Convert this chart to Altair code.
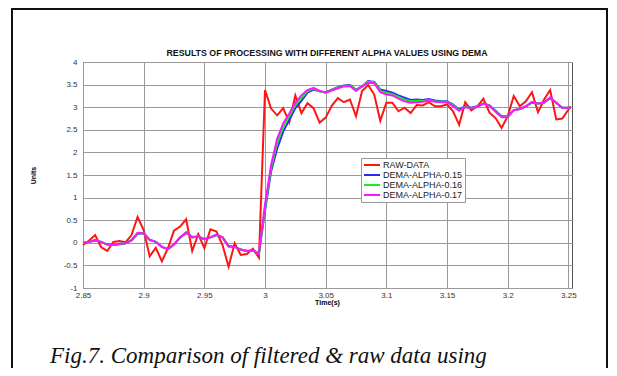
import altair as alt
import pandas as pd

# ---- data ----
time_s = [2.850, 2.855, 2.860, 2.865, 2.870, 2.875, 2.880, 2.885, 2.890, 2.895,
          2.900, 2.905, 2.910, 2.915, 2.920, 2.925, 2.930, 2.935, 2.940, 2.945,
          2.950, 2.955, 2.960, 2.965, 2.970, 2.975, 2.980, 2.985, 2.990, 2.995,
          3.000, 3.005, 3.010, 3.015, 3.020, 3.025, 3.030, 3.035, 3.040, 3.045,
          3.050, 3.055, 3.060, 3.065, 3.070, 3.075, 3.080, 3.085, 3.090, 3.095,
          3.100, 3.105, 3.110, 3.115, 3.120, 3.125, 3.130, 3.135, 3.140, 3.145,
          3.150, 3.155, 3.160, 3.165, 3.170, 3.175, 3.180, 3.185, 3.190, 3.195,
          3.200, 3.205, 3.210, 3.215, 3.220, 3.225, 3.230, 3.235, 3.240, 3.245,
          3.252]

raw_data = [-0.05, 0.05, 0.17, -0.10, -0.18, 0.02, 0.04, 0.01, 0.17, 0.57,
            0.28, -0.30, -0.11, -0.41, -0.12, 0.27, 0.36, 0.52, -0.18, 0.19,
            -0.12, 0.30, 0.25, -0.05, -0.53, -0.01, -0.27, -0.25, -0.13, -0.33,
            3.38, 2.97, 2.82, 2.98, 2.66, 3.26, 2.87, 3.09, 2.98, 2.66,
            2.77, 3.03, 3.20, 3.11, 3.17, 2.80, 3.36, 3.49, 3.28, 2.70,
            3.10, 3.10, 2.91, 2.99, 2.87, 3.05, 3.04, 3.11, 3.02, 3.02,
            3.06, 2.91, 2.61, 3.11, 2.93, 3.02, 3.19, 2.88, 2.76, 2.54,
            2.80, 3.25, 3.02, 3.13, 3.33, 2.89, 3.17, 3.38, 2.73, 2.75,
            3.02]

dema_015 = [0.00, 0.02, 0.05, 0.02, -0.04, -0.05, -0.03, -0.01, 0.05, 0.20,
            0.21, 0.07, 0.02, -0.09, -0.14, -0.04, 0.11, 0.22, 0.13, 0.14,
            0.08, 0.12, 0.17, 0.12, -0.07, -0.09, -0.15, -0.18, -0.17, -0.23,
            0.70, 1.58, 2.08, 2.46, 2.72, 2.98, 3.14, 3.32, 3.39, 3.35,
            3.33, 3.39, 3.44, 3.48, 3.49, 3.39, 3.46, 3.58, 3.56, 3.39,
            3.36, 3.32, 3.26, 3.21, 3.16, 3.17, 3.16, 3.18, 3.15, 3.13,
            3.13, 3.06, 2.95, 3.02, 2.99, 3.02, 3.08, 3.04, 2.92, 2.80,
            2.80, 2.93, 2.96, 3.02, 3.10, 3.08, 3.10, 3.20, 3.10, 2.99,
            2.99]

dema_016 = [0.00, 0.02, 0.06, 0.02, -0.04, -0.05, -0.02, -0.01, 0.06, 0.21,
            0.21, 0.06, 0.02, -0.09, -0.14, -0.03, 0.12, 0.23, 0.12, 0.14,
            0.08, 0.12, 0.18, 0.12, -0.08, -0.09, -0.15, -0.18, -0.17, -0.24,
            0.77, 1.65, 2.20, 2.56, 2.80, 3.05, 3.20, 3.35, 3.41, 3.35,
            3.32, 3.38, 3.43, 3.47, 3.48, 3.38, 3.46, 3.56, 3.55, 3.36,
            3.32, 3.29, 3.23, 3.17, 3.13, 3.14, 3.14, 3.16, 3.13, 3.12,
            3.12, 3.04, 2.93, 3.01, 2.98, 3.01, 3.08, 3.03, 2.91, 2.79,
            2.79, 2.93, 2.96, 3.02, 3.11, 3.08, 3.10, 3.21, 3.10, 2.99,
            2.99]

dema_017 = [0.00, 0.02, 0.06, 0.02, -0.04, -0.05, -0.02, -0.01, 0.06, 0.22,
            0.21, 0.06, 0.02, -0.09, -0.14, -0.03, 0.12, 0.23, 0.12, 0.14,
            0.08, 0.12, 0.18, 0.12, -0.08, -0.09, -0.15, -0.18, -0.17, -0.24,
            0.85, 1.72, 2.30, 2.64, 2.86, 3.10, 3.26, 3.38, 3.43, 3.36,
            3.32, 3.37, 3.42, 3.46, 3.47, 3.36, 3.46, 3.54, 3.53, 3.33,
            3.28, 3.26, 3.19, 3.13, 3.10, 3.11, 3.12, 3.15, 3.12, 3.11,
            3.11, 3.02, 2.92, 3.00, 2.98, 3.01, 3.08, 3.03, 2.90, 2.78,
            2.78, 2.94, 2.96, 3.02, 3.12, 3.08, 3.11, 3.22, 3.10, 2.98,
            2.99]

series_names = ["RAW-DATA", "DEMA-ALPHA-0.15", "DEMA-ALPHA-0.16", "DEMA-ALPHA-0.17"]
series_colors = ["#ff1414", "#2828ff", "#14f014", "#ff14ff"]

x_ticks = [2.85, 2.9, 2.95, 3.0, 3.05, 3.1, 3.15, 3.2, 3.25]
y_ticks = [-1, -0.5, 0, 0.5, 1, 1.5, 2, 2.5, 3, 3.5, 4]

title_text = "RESULTS OF PROCESSING WITH DIFFERENT ALPHA VALUES USING DEMA"
caption_text = "Fig.7. Comparison of filtered & raw data using"

# ---- tables ----
rows = []
for name, vals in zip(series_names, [raw_data, dema_015, dema_016, dema_017]):
    for t, v in zip(time_s, vals):
        rows.append({"Time": t, "Units": v, "Series": name})
df = pd.DataFrame(rows)
raw_df = df[df["Series"] == "RAW-DATA"]
dema_df = df[df["Series"] != "RAW-DATA"]

FONT = "Liberation Sans"

x_enc = alt.X("Time:Q",
              scale=alt.Scale(domain=[2.85, 3.253], nice=False, zero=False),
              axis=alt.Axis(values=x_ticks, format=".2~f", title="Time(s)",
                            grid=True, gridColor="#9a9a9a", gridWidth=1,
                            ticks=False, domain=False, labelPadding=3,
                            labelFont=FONT, labelFontSize=8, labelColor="#333",
                            titleFont=FONT, titleFontSize=7, titleFontWeight="bold",
                            titleX=244, titleY=14, titleBaseline="middle",
                            labelFlush=False))
y_enc = alt.Y("Units:Q",
              scale=alt.Scale(domain=[-1, 4], nice=False, zero=False),
              axis=alt.Axis(values=y_ticks, format=".1~f", title="Units",
                            labelExpr="replace(datum.label, '\u2212', '-')",
                            grid=True, gridColor="#9a9a9a", gridWidth=1,
                            ticks=False, domain=False, labelPadding=6,
                            labelFont=FONT, labelFontSize=8, labelColor="#333",
                            titleFont=FONT, titleFontSize=7, titleFontWeight="bold",
                            titleX=-50, titleY=113, titleAngle=-90,
                            titleBaseline="middle", titleAlign="center",
                            labelFlush=False))
color_enc = alt.Color("Series:N",
                      scale=alt.Scale(domain=series_names, range=series_colors),
                      sort=series_names,
                      legend=alt.Legend(orient="none", legendX=278, legendY=96,
                                        title=None, symbolType="M-2,0H2",
                                        symbolSize=64, symbolStrokeWidth=2,
                                        symbolOffset=4,
                                        labelFont=FONT, labelFontSize=9,
                                        labelColor="#222", labelOffset=6,
                                        rowPadding=0, padding=2,
                                        strokeColor="#999", fillColor="white"))

raw_line = alt.Chart(raw_df).mark_line(strokeWidth=2).encode(
    x=x_enc, y=y_enc, color=color_enc)
dema_line = alt.Chart(dema_df).mark_line(strokeWidth=2).encode(
    x=x_enc, y=y_enc, color=color_enc, order=alt.Order("Time:Q"))

one = alt.Data(values=[{"k": 1}])
caption = alt.Chart(one).mark_text(
    text=caption_text, font="Liberation Serif", fontStyle="italic",
    fontSize=23, align="left", baseline="alphabetic", color="#111"
).encode(x=alt.value(-33), y=alt.value(301))

title_mark = alt.Chart(one).mark_text(
    text=title_text, font=FONT, fontSize=8.8, fontWeight="bold",
    align="center", baseline="middle", color="#111"
).encode(x=alt.value(244), y=alt.value(-9))

frame = alt.Chart(one).mark_rect(
    fillOpacity=0, stroke="#111", strokeWidth=2
).encode(x=alt.value(-71), x2=alt.value(524), y=alt.value(-53), y2=alt.value(330))

chart = alt.layer(frame, raw_line, dema_line, title_mark, caption).properties(
    width=489, height=226,
    autosize=alt.AutoSizeParams(type="none"),
    padding={"left": 75, "top": 54, "right": 37, "bottom": 80},
    background="white",
).configure_view(stroke="#555", strokeWidth=1)

chart.save("out.html", embed_options={"renderer": "svg", "actions": False})
